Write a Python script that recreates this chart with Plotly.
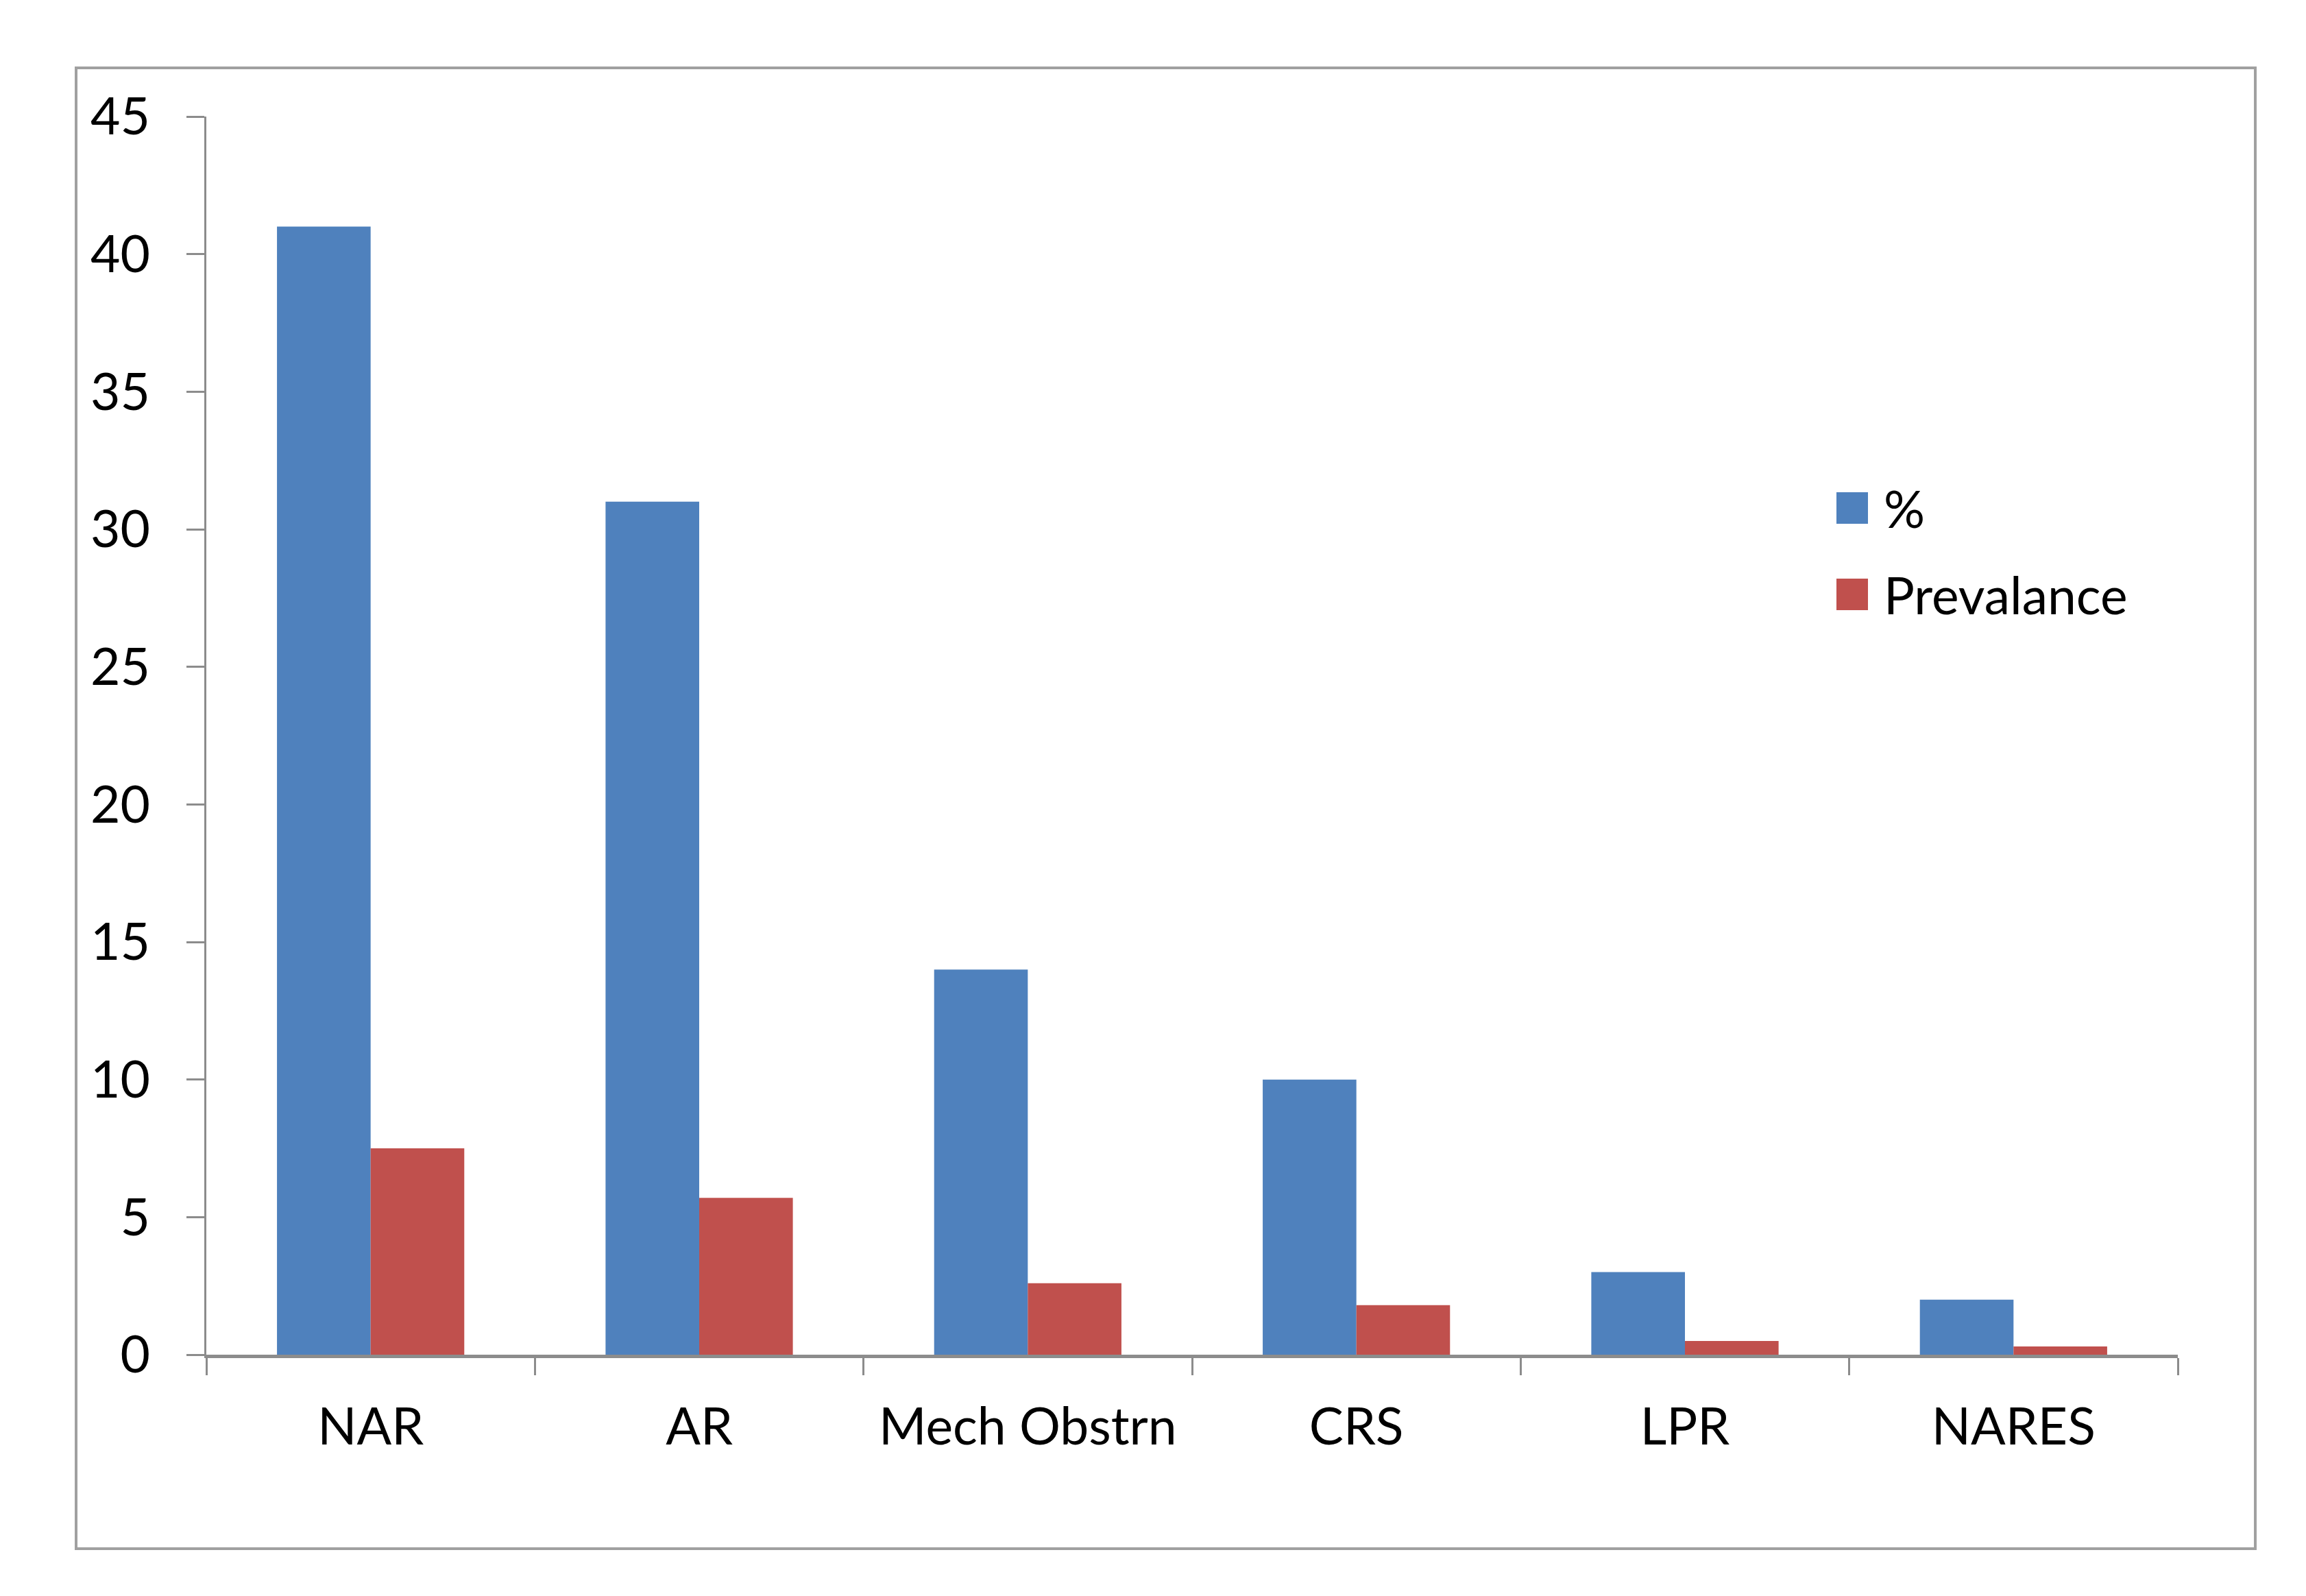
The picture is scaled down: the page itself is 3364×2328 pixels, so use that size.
import plotly.graph_objects as go

categories = ["NAR", "AR", "Mech Obstrn", "CRS", "LPR", "NARES"]
series_names = ["%", "Prevalance"]
pct_values = [41, 31, 14, 10, 3, 2]
prevalence_values = [7.5, 5.7, 2.6, 1.8, 0.5, 0.3]
y_ticks = [0, 5, 10, 15, 20, 25, 30, 35, 40, 45]
colors = ["#4F81BD", "#C0504D"]

W, H = 3364, 2328
L, R, T, B = 293, 3169, 162, 1968
FONT = "Lato"
FS = 75
GRAY = "#8C8C8C"

def px_x(x):
    return (x - L) / (R - L)

def px_y(y):
    return (B - y) / (B - T)

fig = go.Figure()
for name, vals, col in zip(series_names, [pct_values, prevalence_values], colors):
    fig.add_trace(go.Bar(x=categories, y=vals, name=name, marker=dict(color=col, line=dict(width=0)),
                         showlegend=False))

fig.update_layout(
    width=W, height=H,
    margin=dict(l=L, r=W - R, t=T, b=H - B, pad=0),
    paper_bgcolor="white", plot_bgcolor="white",
    barmode="group", bargap=0.43, bargroupgap=0,
    font=dict(family=FONT, size=FS, color="black"),
)
fig.update_xaxes(
    showline=True, linecolor=GRAY, linewidth=5, showgrid=False, zeroline=False,
    ticks="outside", tickson="boundaries", ticklen=25, tickwidth=3, tickcolor=GRAY,
    tickfont=dict(family=FONT, size=FS, color="black"), ticklabelstandoff=36,
)
fig.update_yaxes(
    range=[0, 45], tickvals=y_ticks, showline=True, linecolor=GRAY, linewidth=3,
    showgrid=False, zeroline=False, ticks="outside", ticklen=26, tickwidth=3, tickcolor=GRAY,
    tickfont=dict(family=FONT, size=FS, color="black"), ticklabelstandoff=38,
)

# outer chart border
fig.add_shape(type="rect", xref="paper", yref="paper",
              x0=px_x(103), x1=px_x(3282), y0=px_y(2251), y1=px_y(91),
              line=dict(color="#A0A0A0", width=4), fillcolor="rgba(0,0,0,0)", layer="below")

# legend (large swatches as in reference)
row_centers = [733, 859]
sw = 46
for name, col, yc in zip(series_names, colors, row_centers):
    fig.add_shape(type="rect", xref="paper", yref="paper",
                  x0=px_x(2671), x1=px_x(2671 + sw), y0=px_y(yc + sw / 2), y1=px_y(yc - sw / 2),
                  line=dict(width=0), fillcolor=col)
    fig.add_annotation(xref="paper", yref="paper", x=px_x(2738), y=px_y(yc), text=name,
                       showarrow=False, xanchor="left", yanchor="middle",
                       font=dict(family=FONT, size=FS, color="black"))

fig.write_html("out.html")
